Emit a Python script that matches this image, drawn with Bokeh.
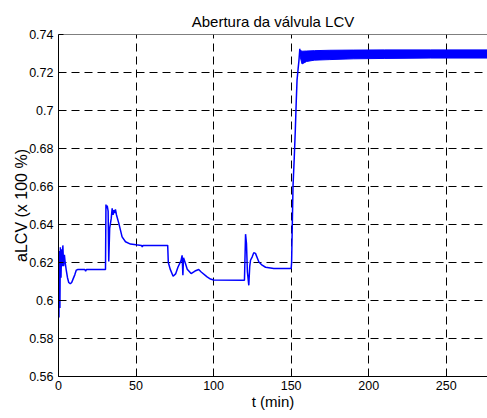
from bokeh.plotting import figure
from bokeh.models import FixedTicker, LinearAxis, CustomJSTickFormatter, Range1d, Grid, Span
from bokeh.embed import file_html
from bokeh.resources import INLINE

# ---- data ----
t_min = [0.0, 0.3, 0.6, 0.9, 1.2, 1.6, 2.0, 2.4, 2.8, 3.3, 3.8, 4.3, 5.0, 5.8, 6.6, 7.6,
         8.5, 9.5, 10.5, 11.5, 12.5, 17.0, 17.5, 18.0, 30.3, 30.6, 31.0, 31.4, 32.0,
         32.4, 33.0, 34.0, 34.6, 35.2, 35.7, 36.2, 36.7, 37.4, 38.9, 41.0, 43.2, 46.4,
         50.0, 53.5, 54.0, 54.5, 70.4, 70.8, 72.0, 73.9, 75.5, 77.0, 79.0, 79.7, 80.2,
         80.6, 81.8, 83.0, 85.5, 88.0, 90.4, 92.0, 95.8, 98.0, 100.0, 119.9, 120.6,
         121.2, 121.8, 122.7, 123.3, 123.8, 124.9, 125.9, 127.0, 129.2, 131.3, 133.5,
         138.8, 150.0, 150.3, 151.2, 152.0, 152.7, 153.3, 153.8, 154.5, 155.0, 155.6]
a_lcv = [0.600, 0.591, 0.626, 0.596, 0.628, 0.612, 0.627, 0.618, 0.629, 0.618, 0.624,
         0.620, 0.616, 0.612, 0.6095, 0.6088, 0.6095, 0.6115, 0.6135, 0.6160, 0.6163,
         0.6163, 0.6155, 0.6163, 0.6163, 0.6505, 0.6485, 0.6500, 0.6470, 0.6205, 0.6380,
         0.6432, 0.6485, 0.6450, 0.6476, 0.6460, 0.6480, 0.6450, 0.6406, 0.6335, 0.6309,
         0.6297, 0.6293, 0.6290, 0.6282, 0.6290, 0.6290, 0.6200, 0.6165, 0.6128, 0.6140,
         0.6175, 0.6210, 0.6238, 0.6133, 0.6225, 0.6196, 0.6165, 0.6142, 0.6155, 0.6163,
         0.6150, 0.6124, 0.6113, 0.6108, 0.6107, 0.6349, 0.6300, 0.6150, 0.6080, 0.6180,
         0.6212, 0.6230, 0.6251, 0.6248, 0.6203, 0.6186, 0.6175, 0.6168, 0.6168, 0.6200,
         0.6600, 0.6750, 0.6900, 0.7050, 0.7160, 0.7220, 0.7260, 0.7325]

# oscillation band after the step (upper / lower envelope)
band_t = [155.6, 157.0, 160.0, 165.0, 175.0, 190.0, 210.0, 240.0, 276.6]
band_hi = [0.7318, 0.7312, 0.7313, 0.7315, 0.7317, 0.7318, 0.7319, 0.7319, 0.7319]
band_lo = [0.7290, 0.7245, 0.7258, 0.7265, 0.7268, 0.7272, 0.7274, 0.7276, 0.7276]

x_ticks = [0, 50, 100, 150, 200, 250]
y_ticks = [0.56, 0.58, 0.60, 0.62, 0.64, 0.66, 0.68, 0.70, 0.72, 0.74]
x_limits = (0, 276.6)
y_limits = (0.56, 0.74)

title_text = "Abertura da válvula LCV"
x_label = "t (min)"
y_label = "aLCV (x 100 %)"

FONT = "Liberation Sans"

p = figure(width=487, height=418, output_backend="svg", toolbar_location=None,
           x_range=Range1d(*x_limits), y_range=Range1d(*y_limits),
           min_border_left=58, min_border_right=0, min_border_top=34,
           min_border_bottom=42, x_axis_location=None, y_axis_location=None)

p.title.text = title_text
p.title.align = "center"
p.title.text_font = FONT
p.title.text_font_size = "15px"
p.title.text_font_style = "normal"
p.title.text_color = "black"
p.outline_line_color = None
p.background_fill_color = "white"
p.border_fill_color = "white"

fmt = CustomJSTickFormatter(code="return String(Number(tick.toFixed(2)));")

def style_axis(ax):
    ax.axis_line_color = "black"
    ax.axis_line_width = 1
    ax.major_tick_line_color = "black"
    ax.major_tick_in = 5
    ax.major_tick_out = 0
    ax.minor_tick_line_color = None
    ax.major_label_text_font = FONT
    ax.major_label_text_color = "black"
    ax.major_label_text_font_size = "12.5px"
    ax.axis_label_text_font = FONT
    ax.axis_label_text_font_style = "normal"
    ax.axis_label_text_color = "black"

xb = LinearAxis(ticker=FixedTicker(ticks=x_ticks), axis_label=x_label)
style_axis(xb)
xb.axis_label_text_font_size = "15px"
xb.major_label_standoff = 4
xb.axis_label_standoff = 0
p.add_layout(xb, "below")

yl = LinearAxis(ticker=FixedTicker(ticks=y_ticks), formatter=fmt, axis_label=y_label)
style_axis(yl)
yl.axis_label_text_font_size = "16px"
yl.major_label_standoff = 5
yl.axis_label_standoff = -4
p.add_layout(yl, "left")

# top border of the axes box (no right border visible in the reference)
p.add_layout(Span(location=y_limits[1], dimension="width", line_color="black", line_width=1))

p.xgrid.grid_line_color = None
p.ygrid.grid_line_color = None
gx = Grid(dimension=0, ticker=FixedTicker(ticks=x_ticks), grid_line_color="black",
          grid_line_dash="8 5", grid_line_width=1)
gy = Grid(dimension=1, ticker=FixedTicker(ticks=y_ticks), grid_line_color="black",
          grid_line_dash="8 5", grid_line_width=1)
p.add_layout(gx)
p.add_layout(gy)

p.varea(x=band_t, y1=band_lo, y2=band_hi, fill_color="#0000ff")
p.line(band_t, band_hi, line_color="#0000ff", line_width=1)
p.line(band_t, band_lo, line_color="#0000ff", line_width=1)
p.line(t_min, a_lcv, line_color="#0000ff", line_width=1.5)

open("out.html", "w").write(file_html(p, INLINE))
